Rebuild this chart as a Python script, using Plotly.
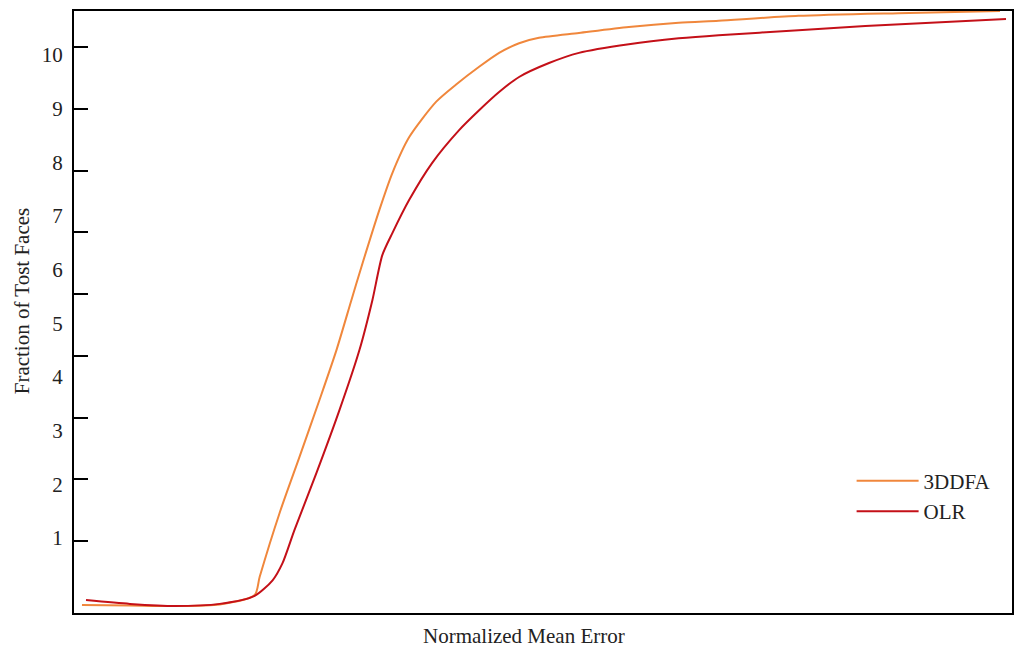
import plotly.graph_objects as go

# ---- data ----
x_3ddfa = [0.0085, 0.0596, 0.1074, 0.1553, 0.1926, 0.1979, 0.2191, 0.2404, 0.2617, 0.2798,
           0.2957, 0.3064, 0.3255, 0.3394, 0.3574, 0.3862, 0.4074, 0.4319, 0.4532, 0.4745,
           0.4957, 0.5383, 0.5915, 0.6447, 0.6872, 0.7723, 0.8787, 0.9872]
y_3ddfa = [-0.25, -0.26, -0.27, -0.24, -0.065, 0.27, 1.46, 2.51, 3.57, 4.50,
           5.43, 6.05, 7.11, 7.80, 8.47, 9.13, 9.45, 9.78, 10.04, 10.22,
           10.32, 10.41, 10.52, 10.60, 10.64, 10.73, 10.78, 10.82]

x_olr = [0.0128, 0.0596, 0.1074, 0.1553, 0.1926, 0.2117, 0.2223, 0.2351, 0.2585, 0.2830,
         0.3043, 0.3181, 0.3287, 0.3394, 0.3574, 0.3819, 0.4106, 0.4319, 0.4532, 0.4745,
         0.5064, 0.5383, 0.5915, 0.6447, 0.6872, 0.7723, 0.8436, 0.9936]
y_olr = [-0.16, -0.23, -0.27, -0.23, -0.08, 0.21, 0.53, 1.15, 2.21, 3.38,
         4.50, 5.43, 6.27, 6.68, 7.30, 7.99, 8.60, 8.97, 9.31, 9.59,
         9.85, 10.04, 10.20, 10.31, 10.37, 10.46, 10.54, 10.67]

label_vals = [1, 2, 3, 4, 5, 6, 7, 8, 9, 10]
label_text = ["1", "2", "3", "4", "5", "6", "7", "8", "9", "10"]
mark_vals = [1, 2, 3, 4, 5, 6, 7, 8, 9]

names = ["3DDFA", "OLR"]
colors = ["#F0873C", "#C41018"]

SERIF = "Liberation Serif, Times New Roman, serif"

fig = go.Figure()
fig.add_trace(go.Scatter(x=x_3ddfa, y=y_3ddfa, mode="lines", name=names[0],
                         legendgroup="a",
                         line=dict(color=colors[0], width=2, shape="spline", smoothing=0.7)))
fig.add_trace(go.Scatter(x=x_olr, y=y_olr, mode="lines", name=names[1],
                         legendgroup="b",
                         line=dict(color=colors[1], width=2, shape="spline", smoothing=0.7)))
# invisible trace to activate the tick-mark axis
fig.add_trace(go.Scatter(x=[None], y=[None], yaxis="y2", showlegend=False, hoverinfo="skip"))

fig.update_layout(
    width=1023, height=652,
    margin=dict(l=74, r=9, t=11, b=39),
    paper_bgcolor="white", plot_bgcolor="white",
    font=dict(family=SERIF, size=21, color="#222222"),
    showlegend=True,
    legend=dict(x=0.829, y=0.253, xanchor="left", yanchor="top",
                bgcolor="rgba(0,0,0,0)", borderwidth=0,
                tracegroupgap=0, itemwidth=62,
                font=dict(family=SERIF, size=21, color="#222222")),
    xaxis=dict(range=[0, 1], showgrid=False, zeroline=False, showticklabels=False,
               ticks="", showline=True, linecolor="black", linewidth=2, mirror=True),
    yaxis=dict(range=[-0.40, 10.82], showgrid=False, zeroline=False,
               tickmode="array", tickvals=label_vals, ticktext=label_text, ticks="",
               ticklabelstandoff=5,
               tickfont=dict(family=SERIF, size=21, color="#222222"),
               showline=True, linecolor="black", linewidth=2, mirror=True),
    yaxis2=dict(range=[-0.166, 9.583], overlaying="y", side="left", showgrid=False,
                zeroline=False, showline=False, showticklabels=False,
                tickmode="array", tickvals=mark_vals, ticks="inside",
                ticklen=14, tickwidth=2, tickcolor="black"),
    annotations=[
        dict(text="Normalized Mean Error", xref="paper", yref="paper",
             x=0.480, y=-0.038, xanchor="center", yanchor="middle", showarrow=False,
             font=dict(family=SERIF, size=21, color="#222222")),
        dict(text="Fraction of Tost Faces", xref="paper", yref="paper",
             x=-0.0553, y=0.518, xanchor="center", yanchor="middle", showarrow=False,
             textangle=-90, font=dict(family=SERIF, size=21, color="#222222")),
    ],
)

fig.write_html("out.html", config={"displayModeBar": False},
               post_script="document.body.style.margin='0';document.body.style.padding='0';")
